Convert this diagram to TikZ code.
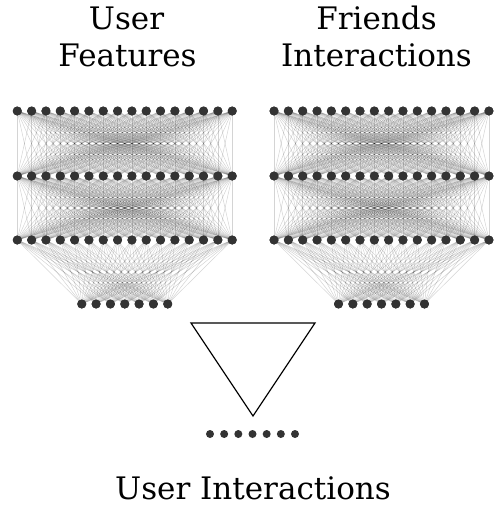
\documentclass[tikz,border=0pt]{standalone}
\usepackage{fontspec}
\setmainfont{DejaVu Serif}
\begin{document}
\begin{tikzpicture}[x=1pt,y=-1pt,
  neuron/.style={circle,fill=black!80,draw=none,minimum size=9pt,inner sep=0pt},
  synapse/.style={draw=black,opacity=0.17,line width=0.5pt},
  title/.style={font=\fontsize{31}{37}\selectfont,inner sep=0pt}]
\useasboundingbox (0,0) rectangle (496,506);

% two stacked towers: three 16-unit layers narrowing to a 7-unit output
\foreach \net/\cx in {a/124.75,b/381.5}{
  \foreach \r/\y in {1/111,2/176,3/240}
    \foreach \i in {1,...,16}
      \node[neuron] (\net\r-\i) at ({\cx+(\i-8.5)*14.33},\y) {};
  \foreach \i in {1,...,7}
    \node[neuron] (\net4-\i) at ({\cx+(\i-4)*14.33},304) {};
}
\foreach \net in {a,b}{
  \foreach \r/\s in {1/2,2/3}
    \foreach \i in {1,...,16}
      \foreach \j in {1,...,16}
        \draw[synapse] (\net\r-\i.center) -- (\net\s-\j.center);
  \foreach \i in {1,...,16}
    \foreach \j in {1,...,7}
      \draw[synapse] (\net3-\i.center) -- (\net4-\j.center);
}
% redraw units on top of the connections
\foreach \net in {a,b}{
  \foreach \r in {1,2,3}
    \foreach \i in {1,...,16}
      \node[neuron] at (\net\r-\i.center) {};
  \foreach \i in {1,...,7}
    \node[neuron] at (\net4-\i.center) {};
}

% merging funnel
\draw[line width=1.2pt,line join=miter] (191,323) -- (315,323) -- (253,416) -- cycle;

% output layer
\foreach \i in {1,...,7}
  \node[neuron,minimum size=8pt] (o-\i) at ({252.5+(\i-4)*14.17},434) {};

% labels
\node[title,anchor=base] (tA) at (126.5,29) {User};
\node[title,anchor=base] (tA2) at (127.5,66) {Features};
\node[title,anchor=base] (tB) at (376.5,29) {Friends};
\node[title,anchor=base] (tB2) at (376.5,66) {Interactions};
\node[title,anchor=base] (tC) at (253,499) {User Interactions};
\end{tikzpicture}
\end{document}
